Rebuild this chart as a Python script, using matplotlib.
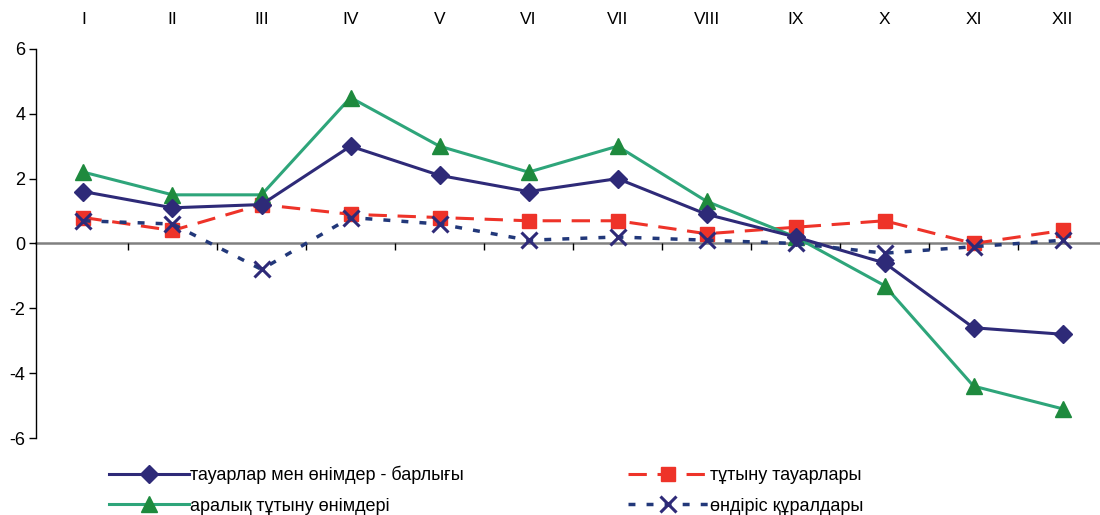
import numpy as np
import matplotlib
matplotlib.use("Agg")
import matplotlib.pyplot as plt
from matplotlib.ticker import FixedLocator

plt.rcParams['font.family'] = ['Liberation Sans', 'DejaVu Sans']
plt.rcParams['axes.unicode_minus'] = False

# months
months = ['I', 'II', 'III', 'IV', 'V', 'VI', 'VII', 'VIII', 'IX', 'X', 'XI', 'XII']

# series values
total = [1.6, 1.1, 1.2, 3.0, 2.1, 1.6, 2.0, 0.9, 0.2, -0.6, -2.6, -2.8]
intermediate = [2.2, 1.5, 1.5, 4.5, 3.0, 2.2, 3.0, 1.3, 0.2, -1.3, -4.4, -5.1]
consumer = [0.8, 0.4, 1.2, 0.9, 0.8, 0.7, 0.7, 0.3, 0.5, 0.7, 0.0, 0.4]
capital = [0.7, 0.6, -0.8, 0.8, 0.6, 0.1, 0.2, 0.1, 0.0, -0.3, -0.1, 0.1]

labels = ['тауарлар мен өнімдер - барлығы',
          'аралық тұтыну өнімдері',
          'тұтыну тауарлары',
          'өндіріс құралдары']

x = np.arange(len(months))

fig = plt.figure(figsize=(11, 5.15), dpi=100)
ax = fig.add_axes([0.033, 0.1495, 0.967, 0.7555])

navy = '#2E2A78'
l1, = ax.plot(x, total, color=navy, lw=2.2, marker='D', ms=9,
              mfc=navy, mec=navy, zorder=4)
l2, = ax.plot(x, intermediate, color='#2EA57A', lw=2.2, marker='^', ms=12,
              mfc='#1E8A3E', mec='#1E8A3E', zorder=3)
l3, = ax.plot(x, consumer, color='#EE3329', lw=2.2, marker='s', ms=10,
              mfc='#EE3329', mec='#EE3329', dashes=(6, 3.5), zorder=2)
l4, = ax.plot(x, capital, color='#22387A', lw=2.5, marker='x', ms=12,
              mew=2.2, mec=navy, dashes=(2, 3.2), zorder=5)

ax.set_xlim(-0.53, 11.42)
ax.set_ylim(-6, 6)
ax.set_yticks([-6, -4, -2, 0, 2, 4, 6])

# axis styling
for s in ['top', 'right']:
    ax.spines[s].set_visible(False)
ax.spines['left'].set_color('black')
ax.spines['left'].set_linewidth(1.0)
ax.spines['bottom'].set_position(('data', 0))
ax.spines['bottom'].set_color('#808080')
ax.spines['bottom'].set_linewidth(1.8)
ax.spines['bottom'].set_zorder(1)

ax.set_xticks(x)
ax.set_xticklabels(months)
ax.xaxis.set_minor_locator(FixedLocator(x[:-1] + 0.5))
ax.tick_params(axis='x', which='major', length=0, labeltop=True,
               labelbottom=False, pad=15.5, labelsize=12.5)
ax.tick_params(axis='x', which='minor', direction='out', length=5,
               width=1.0, color='black', bottom=True)
ax.tick_params(axis='y', direction='out', length=5, width=1.0,
               labelsize=13, pad=3)

fig.legend([l1, l2, l3, l4], labels, ncol=2, frameon=False,
           loc='center left', bbox_to_anchor=(0.091, 0.048),
           fontsize=13, handlelength=4.4, handletextpad=0.1,
           columnspacing=9.1, labelspacing=0.75, borderpad=0)

fig.savefig('out.png', dpi=100)
